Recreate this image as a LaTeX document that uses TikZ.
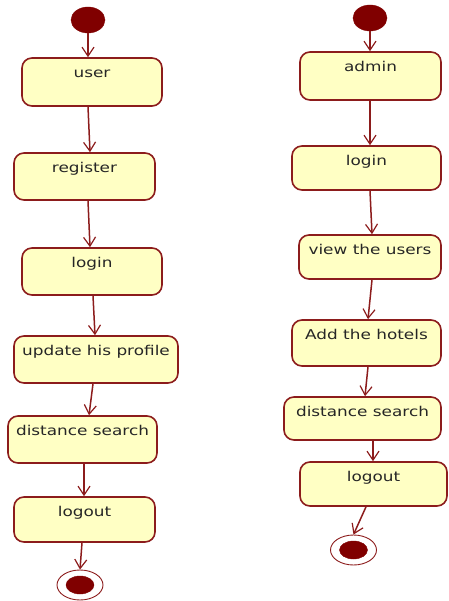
\documentclass[tikz,border=0pt]{standalone}
\usepackage{fontspec}
\setmainfont[FakeStretch=1.25]{DejaVu Sans}
\usetikzlibrary{arrows.meta,shapes.geometric}
\definecolor{umlred}{RGB}{140,28,28}
\definecolor{umlfill}{RGB}{255,255,196}
\definecolor{umldot}{RGB}{128,0,0}
\tikzset{
  actbox/.style={draw=umlred, fill=umlfill, line width=1.6pt, rounded corners=10pt,
    inner sep=0pt},
  lbl/.style={anchor=base, inner sep=0pt, font=\fontsize{13.5}{15}\selectfont, text=black!85},
  startdot/.style={ellipse, fill=umldot, draw=umldot, inner sep=0pt,
    minimum width=34pt, minimum height=26pt},
  endring/.style={ellipse, fill=white, draw=umlred, line width=0.9pt, inner sep=0pt,
    minimum width=46pt, minimum height=30pt},
  enddot/.style={ellipse, fill=umldot, draw=umldot, inner sep=0pt,
    minimum width=28pt, minimum height=18pt},
  flow/.style={draw=umlred, line width=1.5pt,
    -{Straight Barb[length=9pt,width=12pt,line width=1.2pt]}},
}
% an action box with its caption set near the top edge
\newcommand{\actnode}[6]{%
  \node[actbox, minimum width=#3pt, minimum height=#4pt] (#1) at (#2) {};
  \node[lbl] (#5) at ([yshift=-20pt]#1.north) {#6};}
\begin{document}
\begin{tikzpicture}[x=1pt,y=-1pt]
\useasboundingbox (0,0) rectangle (448,601);

% user flow
\node[startdot] (s1) at (88,20) {};
\actnode{user}{92,82}{140}{48}{userT}{user}
\actnode{reg}{84.5,176.5}{141}{47}{regT}{register}
\actnode{loginA}{92,271.5}{140}{47}{loginAT}{login}
\actnode{upd}{96,359.5}{164}{47}{updT}{update his profile}
\actnode{distA}{82.5,439.5}{149}{47}{distAT}{distance search}
\actnode{outA}{84.5,519.5}{141}{45}{outAT}{logout}
\node[endring] (e1) at (80,585) {};
\node[enddot] (e1d) at (e1.center) {};

\draw[flow] (s1.south) -- ([xshift=-4pt]user.north);
\draw[flow] ([xshift=-4pt]user.south) -- ([xshift=5.5pt]reg.north);
\draw[flow] ([xshift=3.5pt]reg.south) -- ([xshift=-2pt]loginA.north);
\draw[flow] ([xshift=1pt]loginA.south) -- ([xshift=-1pt]upd.north);
\draw[flow] ([xshift=-3pt]upd.south) -- ([xshift=6.5pt]distA.north);
\draw[flow] ([xshift=1.5pt]distA.south) -- ([xshift=-0.5pt]outA.north);
\draw[flow] ([xshift=-2.5pt]outA.south) -- (e1.north);

% admin flow
\node[startdot] (s2) at (370,18) {};
\actnode{admin}{370.5,76}{141}{48}{adminT}{admin}
\actnode{loginB}{366.5,168}{149}{44}{loginBT}{login}
\actnode{view}{370,257}{142}{44}{viewT}{view the users}
\actnode{add}{366.5,343}{149}{46}{addT}{Add the hotels}
\actnode{distB}{362.5,418.5}{157}{43}{distBT}{distance search}
\actnode{outB}{373.5,484}{147}{44}{outBT}{logout}
\node[endring] (e2) at (353.5,550) {};
\node[enddot] (e2d) at (e2.center) {};

\draw[flow] (s2.south) -- ([xshift=-0.5pt]admin.north);
\draw[flow] ([xshift=-0.5pt]admin.south) -- ([xshift=3.5pt]loginB.north);
\draw[flow] ([xshift=3.5pt]loginB.south) -- ([xshift=2pt]view.north);
\draw[flow] ([xshift=2pt]view.south) -- ([xshift=1.5pt]add.north);
\draw[flow] ([xshift=1.5pt]add.south) -- ([xshift=2.5pt]distB.north);
\draw[flow] ([xshift=10.5pt]distB.south) -- ([xshift=-0.5pt]outB.north);
\draw[flow] ([xshift=-7.5pt]outB.south) -- (e2.north);
\end{tikzpicture}
\end{document}
